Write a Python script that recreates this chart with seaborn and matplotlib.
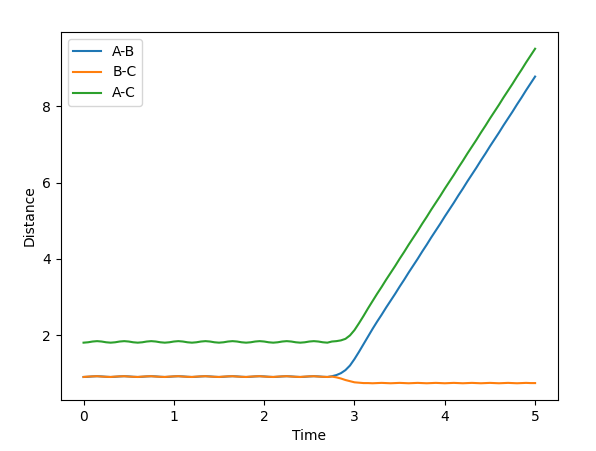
import numpy as np
import matplotlib
matplotlib.use("Agg")
import matplotlib.pyplot as plt
import seaborn as sns

# sampling grid of the simulation (0 .. 5 in steps of 0.05)
time = np.linspace(0, 5, 101)

dist_AB = [
    0.90, 0.905, 0.915, 0.92, 0.915, 0.905, 0.90, 0.905, 0.915, 0.92, 0.915, 0.905,
    0.90, 0.905, 0.915, 0.92, 0.915, 0.905, 0.90, 0.905, 0.915, 0.92, 0.915, 0.905,
    0.90, 0.905, 0.915, 0.92, 0.915, 0.905, 0.90, 0.905, 0.915, 0.92, 0.915, 0.905,
    0.90, 0.905, 0.915, 0.92, 0.915, 0.905, 0.90, 0.905, 0.915, 0.92, 0.915, 0.905,
    0.90, 0.905, 0.915, 0.92, 0.915, 0.905, 0.90,
    0.92, 0.95, 1.00, 1.08, 1.20, 1.37, 1.56, 1.76, 1.96, 2.16, 2.35,
    2.53, 2.72, 2.90, 3.08, 3.27, 3.45, 3.64, 3.82, 4.00, 4.19, 4.37, 4.56,
    4.74, 4.92, 5.11, 5.29, 5.47, 5.66, 5.84, 6.03, 6.21, 6.39, 6.58, 6.76,
    6.95, 7.13, 7.31, 7.50, 7.68, 7.86, 8.05, 8.23, 8.42, 8.60, 8.78,
]

dist_BC = [
    0.90, 0.91, 0.915, 0.92, 0.91, 0.905, 0.90, 0.91, 0.915, 0.92, 0.91, 0.905,
    0.90, 0.91, 0.915, 0.92, 0.91, 0.905, 0.90, 0.91, 0.915, 0.92, 0.91, 0.905,
    0.90, 0.91, 0.915, 0.92, 0.91, 0.905, 0.90, 0.91, 0.915, 0.92, 0.91, 0.905,
    0.90, 0.91, 0.915, 0.92, 0.91, 0.905, 0.90, 0.91, 0.915, 0.92, 0.91, 0.905,
    0.90, 0.91, 0.915, 0.92, 0.91, 0.905, 0.90,
    0.91, 0.89, 0.86, 0.82, 0.79, 0.76, 0.75, 0.74, 0.74, 0.735, 0.74,
    0.745, 0.74, 0.735, 0.74, 0.745, 0.74, 0.735, 0.74, 0.745, 0.74, 0.735, 0.74,
    0.745, 0.74, 0.735, 0.74, 0.745, 0.74, 0.735, 0.74, 0.745, 0.74, 0.735, 0.74,
    0.745, 0.74, 0.735, 0.74, 0.745, 0.74, 0.735, 0.74, 0.745, 0.74, 0.74,
]

dist_AC = [
    1.80, 1.81, 1.83, 1.84, 1.83, 1.81, 1.80, 1.81, 1.83, 1.84, 1.83, 1.81,
    1.80, 1.81, 1.83, 1.84, 1.83, 1.81, 1.80, 1.81, 1.83, 1.84, 1.83, 1.81,
    1.80, 1.81, 1.83, 1.84, 1.83, 1.81, 1.80, 1.81, 1.83, 1.84, 1.83, 1.81,
    1.80, 1.81, 1.83, 1.84, 1.83, 1.81, 1.80, 1.81, 1.83, 1.84, 1.83, 1.81,
    1.80, 1.81, 1.83, 1.84, 1.83, 1.81, 1.80,
    1.83, 1.84, 1.86, 1.90, 1.99, 2.13, 2.31, 2.50, 2.70, 2.89, 3.08,
    3.26, 3.45, 3.63, 3.81, 4.00, 4.18, 4.37, 4.55, 4.73, 4.92, 5.10, 5.29,
    5.47, 5.65, 5.84, 6.02, 6.20, 6.39, 6.57, 6.76, 6.94, 7.12, 7.31, 7.49,
    7.68, 7.86, 8.04, 8.23, 8.41, 8.59, 8.78, 8.96, 9.15, 9.33, 9.51,
]

fig, ax = plt.subplots(figsize=(5.96, 4.51), dpi=100)
fig.subplots_adjust(left=0.1023, right=0.9357, bottom=0.1131, top=0.929)

sns.lineplot(x=time, y=dist_AB, color="C0", label="A-B", ax=ax)
sns.lineplot(x=time, y=dist_BC, color="C1", label="B-C", ax=ax)
sns.lineplot(x=time, y=dist_AC, color="C2", label="A-C", ax=ax)

ax.set_xlabel("Time")
ax.set_ylabel("Distance")
ax.legend(loc="upper left")

fig.savefig("out.png", dpi=100)
